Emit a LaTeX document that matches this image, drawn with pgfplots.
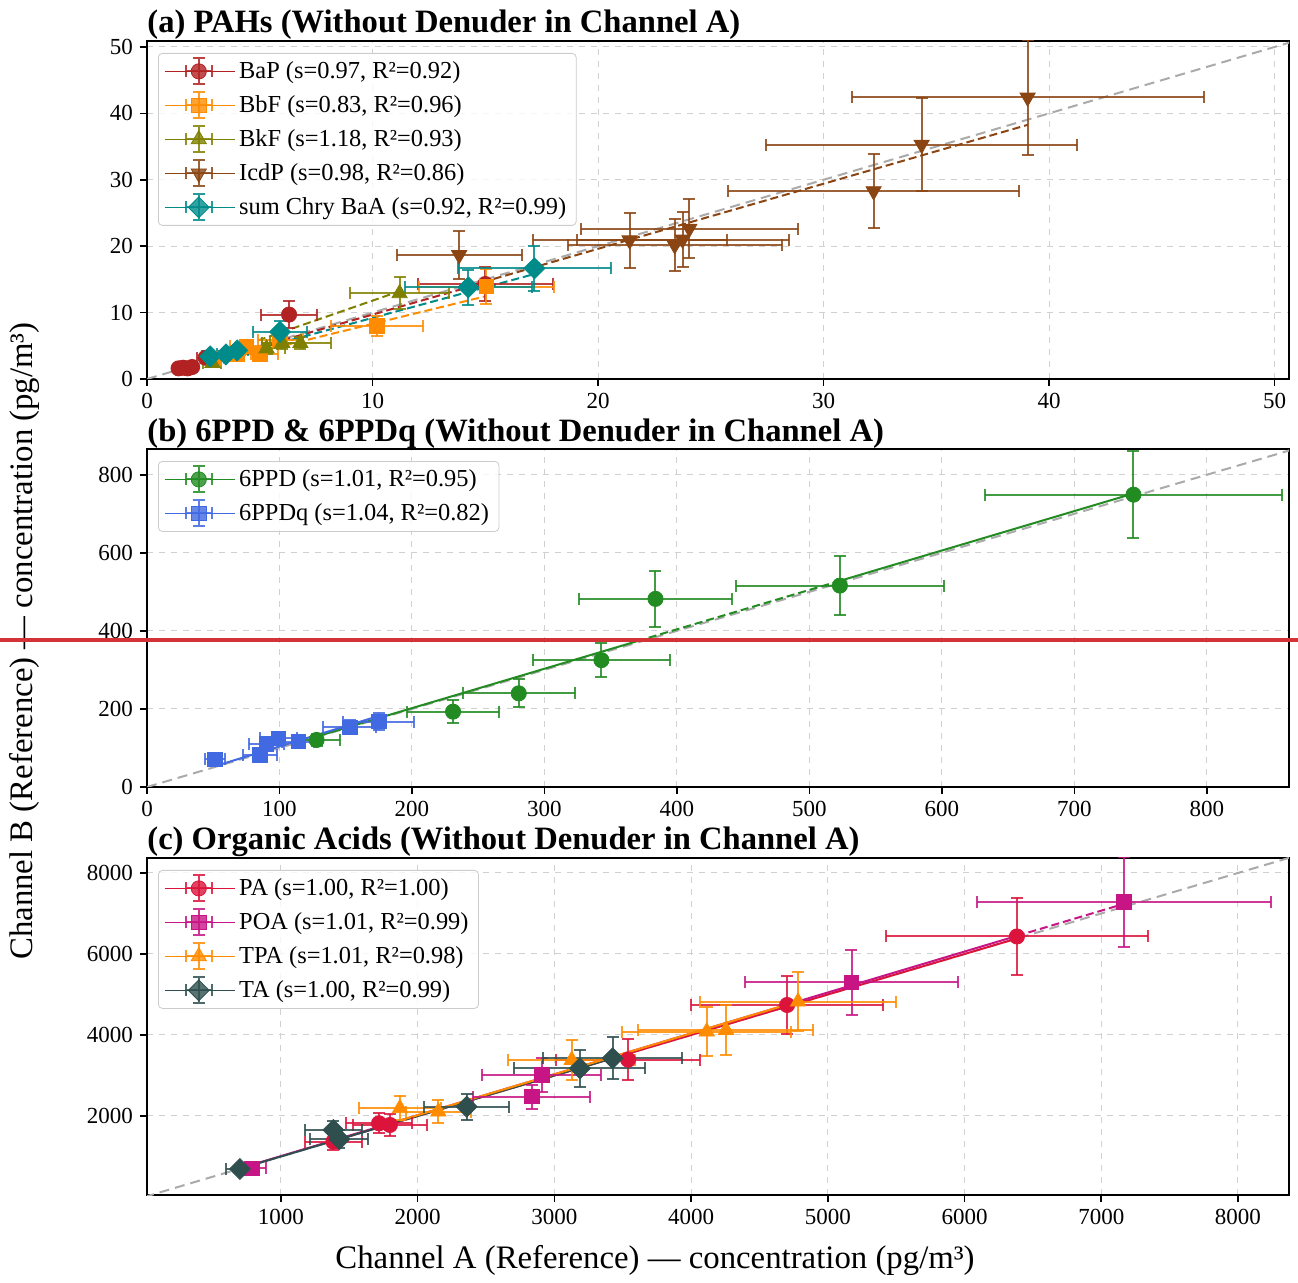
\documentclass[border=0pt]{standalone}
\usepackage{fontspec}
\setmainfont{Liberation Serif}
\usepackage{pgfplots}
\pgfplotsset{compat=1.18}
\usepackage{pgfplotstable}

\definecolor{cBaP}{RGB}{178,34,34}
\definecolor{cBbF}{RGB}{255,140,0}
\definecolor{cBkF}{RGB}{128,128,0}
\definecolor{cIcdP}{RGB}{139,69,19}
\definecolor{cChry}{RGB}{0,139,139}
\definecolor{c6PPD}{RGB}{34,139,34}
\definecolor{c6PPDq}{RGB}{65,105,225}
\definecolor{cPA}{RGB}{220,20,60}
\definecolor{cPOA}{RGB}{199,21,133}
\definecolor{cTPA}{RGB}{255,140,0}
\definecolor{cTA}{RGB}{47,79,79}
\definecolor{cGray}{RGB}{170,170,170}
\definecolor{redline}{RGB}{211,50,55}

% ---------- panel (a) ----------
\pgfplotstableread{
x y ex ey
1.4 1.6 0.15 0.25
1.6 1.7 0.15 0.25
1.8 1.6 0.2 0.25
2.0 1.8 0.2 0.3
2.6 3.2 0.4 0.5
6.3 9.7 1.25 2.0
15.0 14.3 3.0 2.6
}\tBaP
\pgfplotstableread{
x y ex ey
3.0 3.1 0.4 0.5
4.0 3.8 0.6 0.5
4.4 4.9 0.7 0.6
5.0 3.8 0.8 0.6
5.9 5.8 1.0 0.8
10.2 8.0 2.05 1.5
15.05 13.9 3.0 2.6
}\tBbF
\pgfplotstableread{
x y ex ey
2.9 2.4 0.4 0.5
5.3 4.6 0.8 0.8
6.0 5.4 0.9 0.9
6.8 5.4 1.35 0.9
11.2 12.9 2.2 2.4
}\tBkF
\pgfplotstableread{
x y ex ey
13.84 18.67 2.77 3.6
21.4 20.9 4.3 4.15
23.4 20.15 4.75 3.9
23.75 21.0 4.7 4.2
24.05 22.65 4.8 4.5
32.22 28.3 6.45 5.6
34.35 35.3 6.9 7.05
39.05 42.4 7.8 8.65
}\tIcdP
\pgfplotstableread{
x y ex ey
2.8 3.4 0.35 0.5
3.5 3.7 0.4 0.5
4.0 4.3 0.5 0.6
5.9 7.1 1.2 1.6
14.25 13.8 2.8 2.6
17.18 16.67 3.4 3.4
}\tChry
% ---------- panel (b) ----------
\pgfplotstableread{
x y ex ey
128 120.5 18 15
231 193 34.5 30
280.6 240 42.4 36
343 325 51.7 44
383.8 482 57.4 72.7
523 516 78.5 76.5
744.6 749 112 112
}\tSixPPD
\pgfplotstableread{
x y ex ey
51.3 71 7.5 8
85.3 82 12.6 12
90.3 110 13 14
99.1 124.8 14 15
114.2 116.2 12 12
153.2 153 20 18
175 167.5 26.7 22
}\tSixPPDq
% ---------- panel (c) ----------
\pgfplotstableread{
x y ex ey
1383 1366 207 200
1717 1819 241 250
1797 1778 268 260
3539 3390 528 508
4702 4740 705 710
6383 6432 959 957
}\tPA
\pgfplotstableread{
x y ex ey
786 709 105 100
2834 2477 426 300
2907 3012 435 430
5173 5301 778 805
7165 7282 1075 1110
}\tPOA
\pgfplotstableread{
x y ex ey
1870 2190 302 300
2151 2107 238 280
3127 3383 464 494
4114 4083 620 600
4255 4123 640 610
4782 4822 715 722
}\tTPA
\pgfplotstableread{
x y ex ey
700 691 100 100
1383 1654 207 230
1427 1424 213 220
2358 2230 311 320
3187 3178 479 460
3426 3427 510 525
}\tTA

\pgfplotsset{
  errleg/.style={legend image code/.code={%
    \path (-10.5pt,0pt) -- (24.5pt,0pt);
    \draw[##1, mark=none, solid, line width=1pt, opacity=0.85]
      (0pt,0pt) -- (13pt,0pt) (0pt,-3pt) -- (0pt,3pt) (13pt,-3pt) -- (13pt,3pt)
      (6.5pt,-6.5pt) -- (6.5pt,6.5pt) (3.5pt,-6.5pt) -- (9.5pt,-6.5pt) (3.5pt,6.5pt) -- (9.5pt,6.5pt);
    \draw[##1, only marks] plot coordinates {(6.5pt,0pt)};
  }},
  panel/.style={
    scale only axis, width=571pt, height=169pt,
    axis line style={line width=1pt, black},
    tick align=outside, xtick pos=left, ytick pos=left,
    major tick length=3.5pt, tick style={black, line width=0.8pt},
    grid=major, grid style={dashed, black!18, line width=0.5pt},
    tick label style={font=\fontsize{11.5}{13}\selectfont},
    /pgf/number format/assume math mode=true,
    /pgf/number format/1000 sep={},
    every axis title/.style={at={(0,1)}, anchor=base west, yshift=4pt, inner sep=0pt,
      font=\bfseries\fontsize{16.3}{19}\selectfont},
    legend cell align=left,
    legend style={at={(0,1)}, anchor=north west, xshift=5.5pt, yshift=-6pt,
      draw=black!20, rounded corners=2pt, fill=white, fill opacity=0.8,
      text opacity=1, font=\fontsize{12.2}{14}\selectfont, row sep=3pt},
  },
  eb/.style={only marks, /pgfplots/errleg,
    error bars/.cd, x dir=both, x explicit, y dir=both, y explicit,
    error bar style={line width=1pt, draw opacity=0.85},
    error mark options={rotate=90, mark size=3pt, line width=1pt}},
  fit/.style={forget plot, line width=1pt, dash pattern=on 4pt off 2pt},
  fits/.style={forget plot, line width=1pt},
  diag/.style={forget plot, cGray, line width=1pt, dash pattern=on 5pt off 3pt},
  mcirc/.style={mark=*, mark size=3.8pt},
  msq/.style={mark=square*, mark size=3.6pt},
  mtri/.style={mark=triangle*, mark size=4.4pt},
  mtrid/.style={mark=triangle*, mark size=4.4pt, mark options={rotate=180}},
  mdia/.style={mark=square*, mark size=3.7pt, mark options={rotate=45}},
}

\begin{document}
\begin{tikzpicture}[x=1pt,y=1pt]
\path[use as bounding box] (0,0) rectangle (649,641);

% ===== (a) =====
\begin{axis}[panel, at={(73.5pt,451.5pt)}, anchor=south west,
  xmin=0, xmax=50.64, ymin=0, ymax=50.9,
  xtick={0,10,...,50}, ytick={0,10,...,50},
  title={(a) PAHs (Without Denuder in Channel A)}]
\addplot[diag] coordinates {(0,0) (51,51)};
\addplot[fit, cBaP] coordinates {(1.4,1.358) (15.0,14.55)};
\addplot[fit, cBbF] coordinates {(3.0,2.49) (15.05,12.49)};
\addplot[fit, cBkF] coordinates {(2.9,3.422) (11.2,13.216)};
\addplot[fit, cIcdP] coordinates {(13.84,13.563) (39.05,38.269)};
\addplot[fit, cChry] coordinates {(2.8,2.576) (17.18,15.806)};
\addplot[color=cBaP, mcirc, eb] table[x=x,y=y,x error=ex,y error=ey] {\tBaP};
\addlegendentry{BaP (s=0.97, R²=0.92)}
\addplot[color=cBbF, msq, eb] table[x=x,y=y,x error=ex,y error=ey] {\tBbF};
\addlegendentry{BbF (s=0.83, R²=0.96)}
\addplot[color=cBkF, mtri, eb] table[x=x,y=y,x error=ex,y error=ey] {\tBkF};
\addlegendentry{BkF (s=1.18, R²=0.93)}
\addplot[color=cIcdP, mtrid, eb] table[x=x,y=y,x error=ex,y error=ey] {\tIcdP};
\addlegendentry{IcdP (s=0.98, R²=0.86)}
\addplot[color=cChry, mdia, eb] table[x=x,y=y,x error=ex,y error=ey] {\tChry};
\addlegendentry{sum Chry BaA (s=0.92, R²=0.99)}
\end{axis}

% ===== (b) =====
\begin{axis}[panel, at={(73.5pt,247.5pt)}, anchor=south west,
  xmin=0, xmax=862, ymin=0, ymax=866,
  xtick={0,100,...,800}, ytick={0,200,...,800},
  title={(b) 6PPD \& 6PPDq (Without Denuder in Channel A)}]
\addplot[diag] coordinates {(0,0) (870,870)};
\addplot[fits, c6PPD] coordinates {(128,129.3) (370,373.7)};
\addplot[fit, c6PPD] coordinates {(370,373.7) (523,528.2)};
\addplot[fits, c6PPD] coordinates {(523,528.2) (744.6,752.0)};
\addplot[fits, c6PPDq] coordinates {(51.3,53.35) (175,182.0)};
\addplot[color=c6PPD, mcirc, eb] table[x=x,y=y,x error=ex,y error=ey] {\tSixPPD};
\addlegendentry{6PPD (s=1.01, R²=0.95)}
\addplot[color=c6PPDq, msq, eb] table[x=x,y=y,x error=ex,y error=ey] {\tSixPPDq};
\addlegendentry{6PPDq (s=1.04, R²=0.82)}
\end{axis}

% ===== (c) =====
\begin{axis}[panel, at={(73.5pt,43.5pt)}, anchor=south west, height=168.5pt,
  xmin=20, xmax=8373, ymin=49, ymax=8370,
  xtick={1000,2000,...,8000}, ytick={2000,4000,6000,8000},
  title={(c) Organic Acids (Without Denuder in Channel A)}]
\addplot[diag] coordinates {(0,0) (8400,8400)};
\addplot[fits, cPA] coordinates {(1383,1383) (6383,6383)};
\addplot[fits, cPOA] coordinates {(786,793.9) (6383,6446.8)};
\addplot[fit, cPOA] coordinates {(6383,6446.8) (7165,7236.7)};
\addplot[fits, cTA] coordinates {(700,700) (3426,3426)};
\addplot[fits, cTPA] coordinates {(1870,1888.7) (4782,4829.8)};
\addplot[color=cPA, mcirc, eb] table[x=x,y=y,x error=ex,y error=ey] {\tPA};
\addlegendentry{PA (s=1.00, R²=1.00)}
\addplot[color=cPOA, msq, eb] table[x=x,y=y,x error=ex,y error=ey] {\tPOA};
\addlegendentry{POA (s=1.01, R²=0.99)}
\addplot[color=cTPA, mtri, eb] table[x=x,y=y,x error=ex,y error=ey] {\tTPA};
\addlegendentry{TPA (s=1.01, R²=0.98)}
\addplot[color=cTA, mdia, eb] table[x=x,y=y,x error=ex,y error=ey] {\tTA};
\addlegendentry{TA (s=1.00, R²=0.99)}
\end{axis}

% shared axis labels
\node[rotate=90, anchor=center, font=\fontsize{16.4}{19}\selectfont] at (12,320.5)
  {Channel B (Reference) — concentration (pg/m³)};
\node[anchor=base, font=\fontsize{16.4}{19}\selectfont] at (327.5,7)
  {Channel A (Reference) — concentration (pg/m³)};

% horizontal marker line
\draw[redline, line width=2pt] (0,321) -- (649,321);
\end{tikzpicture}
\end{document}
